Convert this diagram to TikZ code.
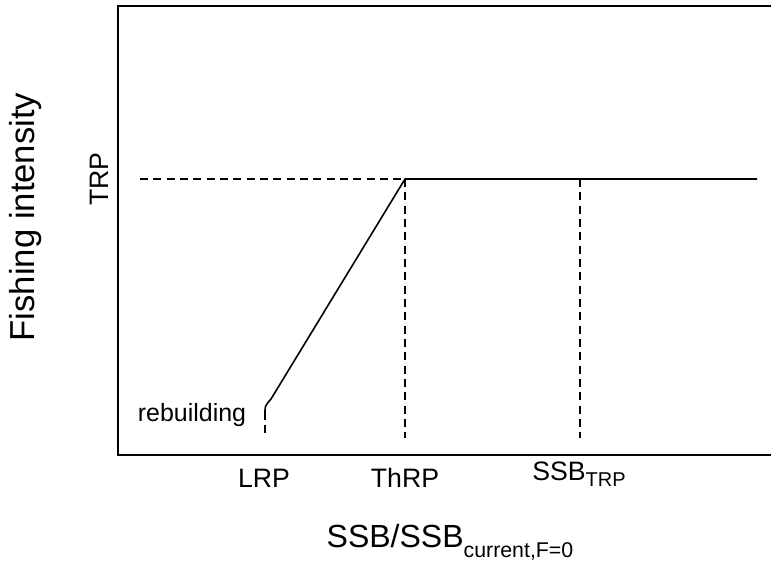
\documentclass[tikz,border=0pt]{standalone}
\usepackage{fontspec}
\setmainfont{Liberation Sans}
\usetikzlibrary{positioning}

\tikzset{
  dashline/.style={dash pattern=on 6pt off 4pt},
  lab/.style={font=\fontsize{20}{24}\selectfont, inner sep=0pt, anchor=base},
  axlab/.style={font=\fontsize{24}{28}\selectfont, inner sep=0pt, anchor=base}
}
\newcommand{\lowsub}[3]{\raisebox{-#2}{\fontsize{#1}{#1}\selectfont #3}}

\begin{document}
\begin{tikzpicture}[x=0.75pt,y=-0.75pt,line width=1.2pt]
 \useasboundingbox (0,0) rectangle (771,561);
% Rahmen, rechts offen
 \draw[line width=1.5pt] (771,6) -- (118,6) -- (118,455) -- (771,455);

 \coordinate (trpleft) at (140,179);
 \coordinate (knee) at (405,179);
 \coordinate (trpright) at (757,179);
 \coordinate (bend) at (271,399);
 \coordinate (lrptop) at (265,412);
 \coordinate (lrpbot) at (265,438);
 \coordinate (thrpbot) at (405,438);
 \coordinate (ssbtop) at (580,179);
 \coordinate (ssbbot) at (580,438);

 \draw (trpright) -- (knee) -- (bend) .. controls (265,406) .. (lrptop);
 \draw[dashline] (trpleft) -- (knee);
 \draw[dashline] (lrptop) -- (lrpbot);
 \draw[dashline] (knee) -- (thrpbot);
 \draw[dashline] (ssbtop) -- (ssbbot);

 \node[lab, font=\fontsize{18.7}{22}\selectfont] (rebuild) at (192,421) {rebuilding};
 \node[lab] (lrp) at (264,487) {LRP};
 \node[lab] (thrp) at (405,487) {ThRP};
 \node[lab] (ssbtrp) at (579,480) {SSB\lowsub{15}{5pt}{TRP}};
 \node[lab, rotate=90] (trp) at (108,179) {TRP};

 \node[axlab] (xlab) at (450,547) {SSB/SSB\lowsub{16}{7.5pt}{current,F=0}};
 \node[axlab, font=\fontsize{26}{30}\selectfont, rotate=90] (ylab) at (34,217) {Fishing intensity};
\end{tikzpicture}
\end{document}
